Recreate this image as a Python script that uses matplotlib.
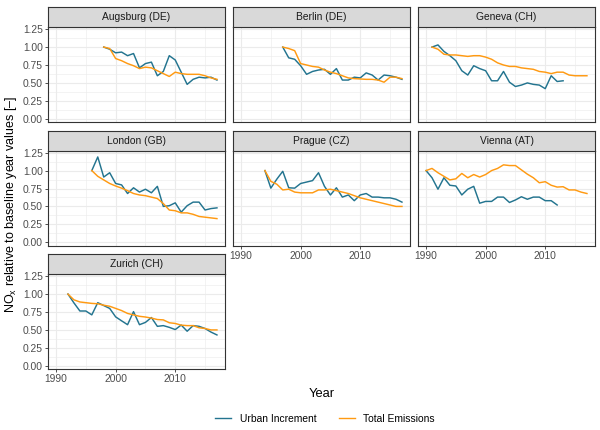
import matplotlib
matplotlib.use("Agg")
import matplotlib.pyplot as plt
from matplotlib.ticker import MultipleLocator

plt.rcParams['font.family'] = ['Liberation Sans', 'DejaVu Sans']
plt.rcParams['mathtext.fontset'] = 'custom'
plt.rcParams['mathtext.rm'] = 'Liberation Sans'

BLUE = '#23748f'
ORANGE = '#ff9a12'

# city panels, in facet order
cities = ['Augsburg (DE)', 'Berlin (DE)', 'Geneva (CH)', 'London (GB)',
          'Prague (CZ)', 'Vienna (AT)', 'Zurich (CH)']

# first year of each series
urban_start = [1998, 1997, 1991, 1996, 1994, 1990, 1992]
total_start = [1998, 1997, 1991, 1996, 1994, 1990, 1992]

augsburg_urban = [1.0, 0.97, 0.92, 0.93, 0.88, 0.91, 0.71, 0.77, 0.79, 0.60, 0.66,
                  0.88, 0.82, 0.65, 0.48, 0.55, 0.58, 0.57, 0.58, 0.54]
augsburg_total = [1.0, 0.98, 0.84, 0.81, 0.77, 0.74, 0.70, 0.72, 0.71, 0.67, 0.63,
                  0.59, 0.65, 0.63, 0.62, 0.62, 0.62, 0.60, 0.57, 0.55]
berlin_urban = [1.0, 0.85, 0.83, 0.74, 0.62, 0.66, 0.68, 0.69, 0.62, 0.70, 0.54,
                0.54, 0.58, 0.57, 0.64, 0.61, 0.54, 0.61, 0.60, 0.58, 0.55]
berlin_total = [1.0, 0.98, 0.95, 0.77, 0.75, 0.73, 0.72, 0.68, 0.65, 0.63, 0.60,
                0.57, 0.56, 0.555, 0.55, 0.55, 0.54, 0.51, 0.58, 0.58, 0.56]
geneva_urban = [1.0, 1.03, 0.94, 0.88, 0.81, 0.67, 0.61, 0.74, 0.70, 0.67, 0.53,
                0.53, 0.66, 0.51, 0.45, 0.47, 0.50, 0.48, 0.47, 0.42, 0.60, 0.52, 0.53]
geneva_total = [1.0, 0.97, 0.90, 0.89, 0.89, 0.88, 0.87, 0.88, 0.88, 0.86, 0.83,
                0.78, 0.75, 0.73, 0.73, 0.71, 0.70, 0.69, 0.66, 0.65, 0.63, 0.65,
                0.65, 0.61, 0.60, 0.60, 0.60]
london_urban = [1.0, 1.19, 0.91, 0.97, 0.82, 0.80, 0.68, 0.76, 0.70, 0.74, 0.69,
                0.78, 0.50, 0.51, 0.55, 0.42, 0.51, 0.56, 0.56, 0.45, 0.47, 0.48]
london_total = [1.0, 0.92, 0.87, 0.82, 0.785, 0.755, 0.72, 0.68, 0.66, 0.65, 0.63,
                0.61, 0.54, 0.45, 0.44, 0.41, 0.41, 0.39, 0.36, 0.35, 0.34, 0.33]
prague_urban = [1.0, 0.755, 0.88, 0.99, 0.76, 0.755, 0.82, 0.84, 0.86, 0.97, 0.78,
                0.66, 0.76, 0.63, 0.66, 0.58, 0.66, 0.68, 0.63, 0.63, 0.62, 0.62,
                0.60, 0.56]
prague_total = [1.0, 0.85, 0.81, 0.73, 0.74, 0.70, 0.69, 0.69, 0.69, 0.73, 0.73,
                0.74, 0.72, 0.70, 0.68, 0.65, 0.62, 0.60, 0.58, 0.56, 0.54, 0.52,
                0.50, 0.50]
vienna_urban = [1.0, 0.90, 0.74, 0.90, 0.795, 0.785, 0.66, 0.74, 0.78, 0.545, 0.57,
                0.57, 0.63, 0.63, 0.555, 0.59, 0.635, 0.60, 0.63, 0.63, 0.58, 0.58, 0.52]
vienna_total = [1.0, 1.03, 0.97, 0.92, 0.87, 0.885, 0.96, 0.90, 0.945, 0.91, 0.945,
                1.0, 1.03, 1.08, 1.07, 1.07, 1.01, 0.95, 0.90, 0.83, 0.845, 0.795,
                0.77, 0.775, 0.73, 0.73, 0.70, 0.68]
zurich_urban = [1.0, 0.877, 0.764, 0.764, 0.71, 0.88, 0.84, 0.80, 0.682, 0.627,
                0.573, 0.755, 0.573, 0.605, 0.673, 0.55, 0.56, 0.536, 0.505, 0.568,
                0.482, 0.56, 0.55, 0.52, 0.47, 0.43]
zurich_total = [1.0, 0.92, 0.89, 0.88, 0.87, 0.865, 0.845, 0.83, 0.80, 0.77, 0.73,
                0.71, 0.69, 0.68, 0.665, 0.645, 0.64, 0.60, 0.59, 0.567, 0.56, 0.56,
                0.53, 0.52, 0.50, 0.50]

urban = [augsburg_urban, berlin_urban, geneva_urban, london_urban,
         prague_urban, vienna_urban, zurich_urban]
total = [augsburg_total, berlin_total, geneva_total, london_total,
         prague_total, vienna_total, zurich_total]

y_ticks = [0.0, 0.25, 0.5, 0.75, 1.0, 1.25]
x_ticks = [1990, 2000, 2010]

W, H = 600, 430
fig = plt.figure(figsize=(6, 4.3), dpi=100)

col_left = [48, 233, 418]
panel_w = 177
strip_h = 20
panel_h = 95
row_top = [7, 130.5, 254]

for i, city in enumerate(cities):
    r, c = divmod(i, 3)
    left = col_left[c]
    top = row_top[r]
    ax = fig.add_axes([left / W, 1 - (top + strip_h + panel_h) / H,
                       panel_w / W, panel_h / H])
    st = fig.add_axes([left / W, 1 - (top + strip_h) / H,
                       panel_w / W, strip_h / H])
    st.set_facecolor('#d9d9d9')
    st.set_xticks([])
    st.set_yticks([])
    for s in st.spines.values():
        s.set_color('#333333')
        s.set_linewidth(0.8)
    st.text(0.5, 0.5, city, ha='center', va='center', fontsize=7.4,
            color='#1a1a1a', transform=st.transAxes)

    uy = list(range(urban_start[i], urban_start[i] + len(urban[i])))
    ty = list(range(total_start[i], total_start[i] + len(total[i])))
    ax.plot(uy, urban[i], color=BLUE, lw=1.05, zorder=3)
    ax.plot(ty, total[i], color=ORANGE, lw=1.05, zorder=3)

    ax.set_xlim(1988.65, 2018.35)
    ax.set_ylim(-0.045, 1.28)
    ax.set_xticks(x_ticks)
    ax.xaxis.set_minor_locator(MultipleLocator(5))
    ax.set_yticks(y_ticks)
    ax.yaxis.set_minor_locator(MultipleLocator(0.125))
    ax.grid(which='major', color='#ebebeb', lw=0.8)
    ax.grid(which='minor', color='#ebebeb', lw=0.4)
    ax.set_axisbelow(True)
    ax.tick_params(which='minor', length=0)
    ax.tick_params(which='major', length=2.3, width=0.6, color='#333333',
                   labelsize=7.4, labelcolor='#4d4d4d', pad=1.5)
    for s in ax.spines.values():
        s.set_color('#333333')
        s.set_linewidth(0.8)

    if c != 0:
        ax.tick_params(axis='y', labelleft=False, length=0)
    else:
        ax.set_yticklabels(['0.00', '0.25', '0.50', '0.75', '1.00', '1.25'])
    bottom_of_col = (r == 2) or (r == 1 and c > 0)
    if not bottom_of_col:
        ax.tick_params(axis='x', labelbottom=False, length=0)

fig.text(322 / W, 1 - 394 / H, 'Year', ha='center', va='center', fontsize=9.3)
fig.text(11 / W, 1 - 204 / H, r'NO$_\mathrm{x}$ relative to baseline year values [–]',
         ha='center', va='center', rotation=90, fontsize=9.0)

handles = [plt.Line2D([], [], color=BLUE, lw=1.0),
           plt.Line2D([], [], color=ORANGE, lw=1.0)]
fig.legend(handles, ['Urban Increment', 'Total Emissions'], loc='center',
           bbox_to_anchor=(325 / W, 1 - 419 / H), ncol=2, frameon=False,
           fontsize=7.4, handlelength=1.6, columnspacing=2.2, handletextpad=0.8)

fig.savefig('out.png', dpi=100)
